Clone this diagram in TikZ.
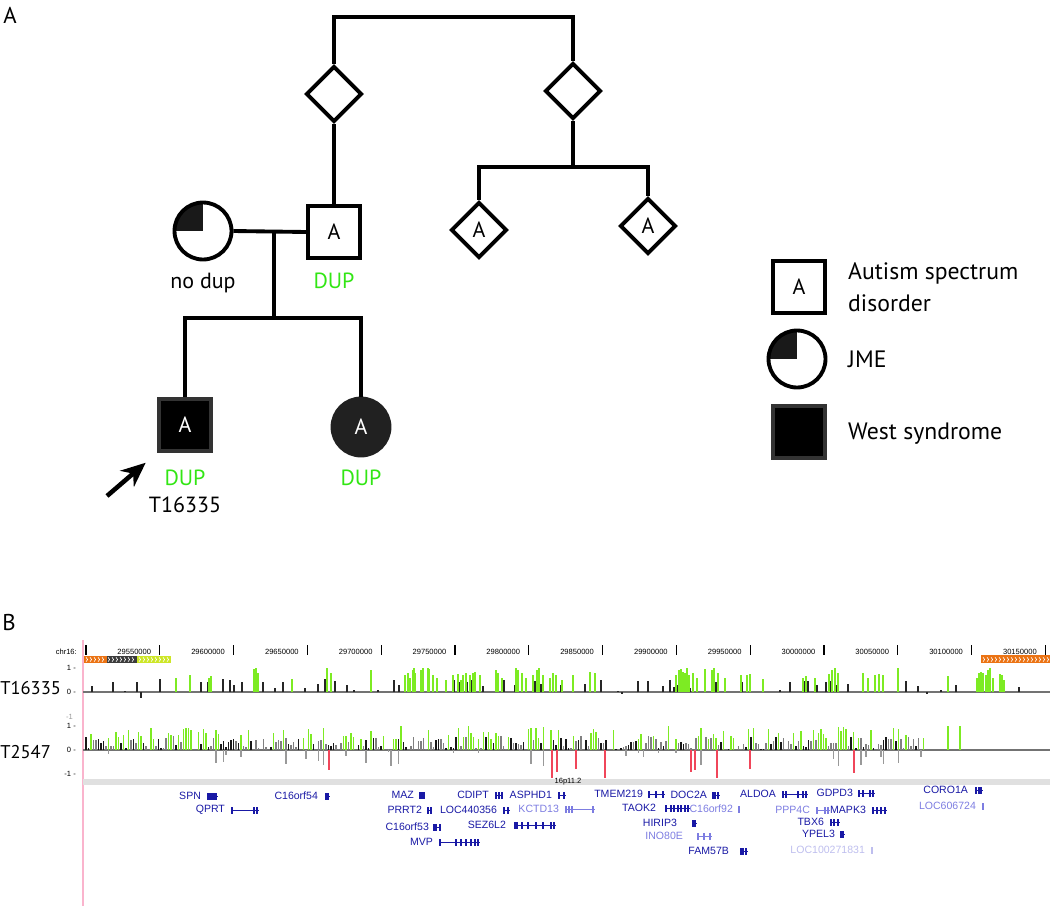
\documentclass[tikz,border=0pt]{standalone}
\usepackage{fontspec}
\setmainfont{PT Sans}
\newfontfamily\helv{Liberation Sans}
\usetikzlibrary{shapes.geometric,arrows.meta}

\definecolor{dupgreen}{RGB}{50,230,20}
\definecolor{bargreen}{RGB}{125,235,35}
\definecolor{genedark}{RGB}{25,25,165}
\definecolor{genelight}{RGB}{125,125,225}
\definecolor{genefaint}{RGB}{190,190,238}
\definecolor{segorange}{RGB}{235,115,20}
\definecolor{segyellow}{RGB}{205,230,40}
\definecolor{segdark}{RGB}{60,60,60}
\definecolor{rulerpink}{RGB}{250,180,205}
\definecolor{bandgray}{RGB}{224,224,224}
\definecolor{redbar}{RGB}{240,70,90}

\tikzset{
  ped/.style={line width=2.2pt},
  pedfont/.style={font=\fontsize{12.5}{15}\selectfont},
  male/.style={ped,pedfont,draw,rectangle,minimum size=1.04cm,inner sep=0pt,fill=white},
  female/.style={ped,pedfont,draw,circle,minimum size=1.14cm,inner sep=0pt,fill=white},
  unknown/.style={ped,pedfont,draw,diamond,minimum size=1.12cm,inner sep=0pt,fill=white},
  jme/.style={path picture={\fill[black!90] (path picture bounding box.center) rectangle (path picture bounding box.north west);}},
  affected/.style={fill=black,draw=black!80,text=white},
  dup/.style={pedfont,text=dupgreen},
  legtext/.style={font=\fontsize{13.5}{18}\selectfont,align=left,anchor=west},
  tracklab/.style={font=\fontsize{10.5}{12}\selectfont,anchor=west,inner sep=0pt},
  ticklab/.style={font=\helv\fontsize{4.3}{5}\selectfont,anchor=east},
  genelab/.style={font=\helv\fontsize{6}{7}\selectfont,anchor=east,inner sep=1pt},
  hit/.style={line width=0.7pt},
  chev/.style={white,line width=0.35pt}
}

\begin{document}
\begin{tikzpicture}[x=0.02cm,y=-0.02cm]
\useasboundingbox (0,0) rectangle (1050,906);

% panel A: pedigree
\node[font=\fontsize{13}{15}\selectfont] (labA) at (10,15) {A};
\node[unknown] (gpL) at (334,94) {};
\node[unknown] (gpR) at (573,91) {};
\node[male] (father) at (334,232) {A};
\node[female,jme] (mother) at (203,231) {};
\node[unknown] (auntL) at (479,230) {A};
\node[unknown] (auntR) at (648,226) {A};
\node[male,affected] (son) at (185,425) {A};
\node[female,affected,draw=black!87,fill=black!87] (daughter) at (361,427) {A};

\coordinate (topbar) at (453,17);
\coordinate (mate) at (274,232);
\coordinate (sibs) at (274,318);
\coordinate (sibR) at (573,167);
\draw[ped] (gpL.north) |- (topbar) -| (gpR.north);
\draw[ped] (gpL.south) -- (father.north);
\draw[ped] (mother.east) -- (father.west);
\draw[ped] (mate) -- (sibs);
\draw[ped] (son.north) |- (sibs) -| (daughter.north);
\draw[ped] (gpR.south) -- (sibR);
\draw[ped] (auntL.north) |- (sibR) -| (auntR.north);

\node[pedfont] (nodup) at (203,283) {no dup};
\node[dup] (dupF) at (334,281) {DUP};
\node[dup] (dupS) at (185,478) {DUP};
\node[pedfont] (probid) at (185,505) {T16335};
\node[dup] (dupD) at (361,478) {DUP};
\coordinate (arrowtail) at (107,496);
\draw[line width=2.6pt,-{Stealth[length=14pt,width=12pt]},shorten >=0.3cm] (arrowtail) -- (son.south west);

% legend
\node[male] (legasd) at (799,287) {A};
\node[female,jme] (legjme) at (797,359) {};
\node[male,affected] (legws) at (799,432) {};
\node[legtext] (legasdtxt) at (842,287) {Autism spectrum\\disorder};
\node[legtext] (legjmetxt) at (842,359) {JME};
\node[legtext] (legwstxt) at (842,434) {West syndrome};

% panel B: genome browser
\node[font=\fontsize{13}{15}\selectfont] (labB) at (9,622) {B};
\draw[rulerpink,line width=0.9pt] (83,640) -- (83,906);

\node[ticklab] (chr) at (83,652) {chr16:};
\foreach \k in {0,...,13}
  \draw[line width=0.7pt] ({86+73.8*\k},645) -- ++(0,10);
\foreach \k/\lab in {1/29550000,2/29600000,3/29650000,4/29700000,5/29750000,6/29800000,7/29850000,
  8/29900000,9/29950000,10/30000000,11/30050000,12/30100000,13/30150000}
  \node[ticklab] at ({83.5+73.8*\k},652) {\lab};

\fill[segorange] (84,656) rectangle (107,663);
\fill[segdark] (107,656) rectangle (137,663);
\fill[segyellow] (137,656) rectangle (171,663);
\fill[segorange] (981,655) rectangle (1050,663);
\foreach \x in {86,90,...,104,108,112,...,134,139,143,...,167,983,987,...,1047}
  \draw[chev] (\x,657.3) -- (\x+1.6,659.5) -- (\x,661.7);

% track T16335
\node[tracklab] (t1) at (0,688) {T16335};
\node[ticklab] at (82,668) {1 -};
\node[ticklab] at (82,692) {0 -};
\draw[black!55,line width=0.6pt] (83,692) -- (1050,692);
\foreach \x/\h in {92/0.25,113/0.4,125/0.05,137/0.4,160/0.55,201/0.4,208/0.4,223/0.55,230/0.5,234/0.3,
  242/0.4,263/0.4,275/0.15,283/0.4,305/0.15,318/0.35,325/0.55,335/0.45,347/0.3,354/0.1,378/0.1,394/0.5,
  399/0.3,454/0.5,460/0.4,467/0.4,471/0.5,474/0.55,483/0.25,504/0.5,515/0.3,535/0.45,541/0.35,561/0.3,
  585/0.35,601/0.5,618/0.05,638/0.45,648/0.45,663/0.25,670/0.5,674/0.2,677/0.3,690/0.15,697/0.45,
  716/0.4,742/0.4,780/0.1,790/0.4,805/0.45,808/0.45,817/0.3,826/0.4,830/0.45,836/0.3,848/0.35,906/0.45,
  918/0.25,941/0.1,956/0.3,1002/0.45,1019/0.2,141/-0.25,622/-0.1,927/-0.1}
  \draw[hit,black!85] (\x,692) -- ++(0,-24*\h);
\foreach \x/\h in {176/0.6,190/0.7,209/0.6,211/0.65,254/0.95,256/1.0,258/0.8,292/0.55,327/1.0,331/0.8,
  371/0.9,405/0.7,408/0.8,410/0.6,413/0.9,414/1.0,415/0.8,421/0.9,423/1.0,428/1.0,429/0.95,433/0.7,
  437/0.6,446/0.5,453/0.7,458/0.75,461/0.5,463/0.7,466/0.8,470/0.7,473/0.8,475/0.85,480/0.7,496/0.9,
  498/0.8,502/0.6,516/1.0,518/0.9,522/0.8,526/0.6,533/0.7,537/0.9,539/1.0,543/0.7,550/0.6,553/0.8,
  556/0.7,562/0.5,573/0.7,590/0.85,595/0.8,676/0.7,679/0.9,681/0.95,683/0.85,685/0.8,687/1.0,689/0.7,
  693/0.8,697/0.6,705/0.95,712/0.9,714/1.0,718/0.8,725/0.6,741/0.7,747/0.7,750/0.75,763/0.55,803/0.6,
  806/0.65,815/0.6,829/0.75,832/0.9,835/1.0,838/0.8,863/0.8,868/0.6,875/0.7,879/0.75,883/0.7,898/1.0,
  948/0.65,977/0.6,979/0.8,981/0.85,983/0.8,986/0.7,988/0.9,990/1.0,993/0.6,1000/0.75,1002/0.7,1004/0.5}
  \draw[hit,bargreen] (\x,692) -- ++(0,-24*\h);

% track T2547
\node[tracklab] (t2) at (0,752) {T2547};
\node[ticklab,black!40] at (79,717) {-1};
\node[ticklab] at (82,726) {1 -};
\node[ticklab] at (82,750) {0 -};
\node[ticklab] at (82,774) {-1 -};
\draw[black!55,line width=0.6pt] (83,750) -- (1050,750);
\pgfmathsetseed{11}
\foreach \x in {86,88.5,...,925} {
  \pgfmathsetmacro{\r}{rnd}
  \pgfmathsetmacro{\h}{rnd}
  \ifdim\r pt<0.3pt
    \draw[hit,bargreen] (\x,750) -- ++(0,{-24*(0.45+0.55*\h)});
  \else\ifdim\r pt<0.62pt
    \draw[hit,black!50] (\x,750) -- ++(0,{-24*(0.05+0.55*\h)});
  \else\ifdim\r pt<0.9pt
    \draw[hit,black!90] (\x,750) -- ++(0,{-24*(0.05+0.5*\h)});
  \fi\fi\fi
  \pgfmathsetmacro{\r}{rnd}
  \ifdim\r pt<0.1pt
    \draw[hit,black!40] (\x,750) -- ++(0,{24*(0.1+0.6*\h)});
  \fi
}
\foreach \x/\h in {948/1.0,960/1.0}
  \draw[hit,bargreen] (\x,750) -- ++(0,-24*\h);
\foreach \x/\h in {329/0.85,552/1.15,557/0.9,576/0.8,605/1.15,691/0.9,695/0.85,717/1.15,750/0.8,854/0.95}
  \draw[hit,redbar] (\x,750) -- ++(0,24*\h);

% genes
\fill[bandgray] (83,779) rectangle (1050,785);
\node[font=\helv\fontsize{4.3}{5}\selectfont,inner sep=0pt] (band) at (568,782) {16p11.2};
\foreach \nm/\lx/\y/\col/\ga/\gb/\ex in {
  SPN/203/796/genedark/207/218/{207,209,211,213,215},
  QPRT/227/810/genedark/231/259/{231,253,256},
  C16orf54/320/796/genedark/325/330/{325,327},
  MAZ/416/795/genedark/419/425/{419,421,423},
  PRRT2/424/810/genedark/427/432/{427,430},
  C16orf53/431/827/genedark/433/441/{433,435,439},
  MVP/435/842/genedark/439/480/{439,455,460,465,470,474,477},
  CDIPT/491/795/genedark/495/503/{495,498,501},
  LOC440356/499/810/genedark/503/510/{503,507},
  SEZ6L2/508/825/genedark/514/556/{514,516,521,527,535,542,550,553},
  ASPHD1/554/795/genedark/558/566/{558,563},
  KCTD13/561/809/genelight/565/595/{565,568,571,592},
  TMEM219/645/794/genedark/648/665/{648,655,662},
  TAOK2/658/808/genedark/665/690/{665,670,673,677,680,684,687},
  C16orf92/735/809/genelight/738/740/{738},
  HIRIP3/679/823/genedark/692/697/{692,694},
  INO80E/685/836/genelight/697/712/{697,703,709},
  DOC2A/709/795/genedark/712/720/{712,714,717},
  FAM57B/731/851/genedark/740/748/{740,742,745},
  ALDOA/778/794/genedark/782/808/{782,785,797,802,805},
  GDPD3/855/793/genedark/858/875/{858,862,869,872},
  CORO1A/970/790/genedark/975/983/{975,978,980},
  PPP4C/812/810/genelight/816/830/{816,824,827},
  MAPK3/868/810/genedark/872/887/{872,876,880,884},
  LOC606724/978/806/genelight/982/983/{982},
  TBX6/826/822/genedark/830/840/{830,833,837},
  YPEL3/837/834/genedark/840/845/{840,842},
  LOC100271831/867/850/genefaint/871/872/{871}} {
  \node[genelab,text=\col] (g-\nm) at (\lx,\y) {\nm};
  \draw[\col,line width=0.5pt] (\ga,\y) -- (\gb,\y);
  \foreach \e in \ex
    \fill[\col] (\e,\y-3.5) rectangle ++(2.2,7);
}
\end{tikzpicture}
\end{document}
